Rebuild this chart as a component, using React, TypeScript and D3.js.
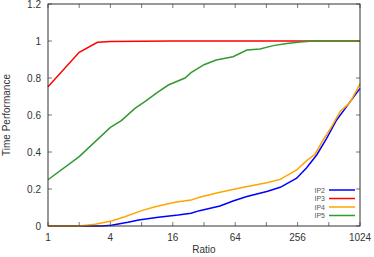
import React, { useEffect, useRef } from "react"
import * as d3 from "d3"

// series data: ratio (x) and time performance (y)
const ip2Ratio = [1, 3.3, 4.1, 5.9, 7.5, 11.6, 18, 24, 29, 45.6, 61, 83, 129, 174, 251, 313, 391, 488, 609, 760, 1024]
const ip2Value = [0, 0, 0.004, 0.02, 0.032, 0.047, 0.059, 0.069, 0.083, 0.108, 0.135, 0.159, 0.186, 0.209, 0.258, 0.315, 0.384, 0.474, 0.573, 0.645, 0.744]

const ip3Ratio = [1, 2, 3, 4, 8, 16, 64, 256, 1024]
const ip3Value = [0.753, 0.939, 0.993, 0.997, 0.999, 1, 1, 1, 1]

const ip4Ratio = [1, 2, 2.85, 4.1, 5.5, 8, 10.8, 16.8, 24, 29, 45.6, 77, 129, 174, 251, 313, 377, 452, 545, 657, 820, 1024]
const ip4Value = [0, 0, 0.009, 0.027, 0.05, 0.083, 0.104, 0.128, 0.14, 0.155, 0.182, 0.209, 0.234, 0.252, 0.303, 0.353, 0.388, 0.465, 0.537, 0.618, 0.668, 0.768]

const ip5Ratio = [1, 2, 4, 5.1, 6.9, 8.6, 11.2, 14.5, 21, 24, 32, 42, 61, 83, 111, 149, 201, 271, 362, 1024]
const ip5Value = [0.25, 0.375, 0.533, 0.57, 0.636, 0.672, 0.72, 0.762, 0.8, 0.829, 0.872, 0.897, 0.915, 0.951, 0.957, 0.975, 0.987, 0.995, 1, 1]

const seriesNames = ["IP2", "IP3", "IP4", "IP5"]
const seriesColors = ["#0000ff", "#ff0000", "#ffa500", "#339933"]

const xTicks = [1, 2, 4, 8, 16, 32, 64, 128, 256, 512, 1024]
const xLabels = [1, 4, 16, 64, 256, 1024]
const yTicks = [0, 0.2, 0.4, 0.6, 0.8, 1, 1.2]

const App = () => {
  const ref = useRef<SVGSVGElement>(null)

  useEffect(() => {
    const svg = d3.select(ref.current)
    svg.selectAll("*").remove()

    const margin = { top: 4, right: 14, bottom: 31, left: 48 }
    const width = 374 - margin.left - margin.right
    const height = 257 - margin.top - margin.bottom

    const x = d3.scaleLog().base(2).domain([1, 1024]).range([0, width])
    const y = d3.scaleLinear().domain([0, 1.2]).range([height, 0])

    const g = svg.append("g").attr("transform", `translate(${margin.left},${margin.top})`)

    const font = "Liberation Sans, Arial, sans-serif"
    const ink = "#333"

    // inward ticks on all four sides
    const ticks = g.append("g").attr("stroke", "#555").attr("stroke-width", 0.8)
    xTicks.forEach((t) => {
      ticks.append("line").attr("x1", x(t)).attr("x2", x(t)).attr("y1", height).attr("y2", height - 4)
      ticks.append("line").attr("x1", x(t)).attr("x2", x(t)).attr("y1", 0).attr("y2", 4)
    })
    yTicks.forEach((t) => {
      ticks.append("line").attr("x1", 0).attr("x2", 4).attr("y1", y(t)).attr("y2", y(t))
      ticks.append("line").attr("x1", width).attr("x2", width - 4).attr("y1", y(t)).attr("y2", y(t))
    })

    g.selectAll(".xl")
      .data(xLabels)
      .enter()
      .append("text")
      .attr("x", (d) => x(d))
      .attr("y", height + 15)
      .attr("text-anchor", "middle")
      .attr("font-family", font)
      .attr("font-size", 10)
      .attr("fill", ink)
      .text((d) => d)

    g.selectAll(".yl")
      .data(yTicks)
      .enter()
      .append("text")
      .attr("x", -7)
      .attr("y", (d) => y(d) + 3.5)
      .attr("text-anchor", "end")
      .attr("font-family", font)
      .attr("font-size", 10)
      .attr("fill", ink)
      .text((d) => (d === 0 || d === 1 ? String(d) : d.toFixed(1)))

    svg.append("text")
      .attr("x", margin.left + width / 2)
      .attr("y", 253)
      .attr("text-anchor", "middle")
      .attr("font-family", font)
      .attr("font-size", 10)
      .attr("fill", ink)
      .text("Ratio")

    svg.append("text")
      .attr("transform", `translate(9.5,${margin.top + height / 2}) rotate(-90)`)
      .attr("text-anchor", "middle")
      .attr("font-family", font)
      .attr("font-size", 10)
      .attr("fill", ink)
      .text("Time Performance")

    const ratios = [ip2Ratio, ip3Ratio, ip4Ratio, ip5Ratio]
    const values = [ip2Value, ip3Value, ip4Value, ip5Value]

    const line = d3
      .line<[number, number]>()
      .x((d) => x(d[0]))
      .y((d) => y(d[1]))

    ratios.forEach((r, i) => {
      const pts: [number, number][] = r.map((v, j) => [v, values[i][j]])
      g.append("path")
        .attr("d", line(pts))
        .attr("fill", "none")
        .attr("stroke", seriesColors[i])
        .attr("stroke-width", 1.5)
    })

    // legend
    const lg = g.append("g").attr("transform", `translate(${width - 35},${190 - margin.top})`)
    seriesNames.forEach((name, i) => {
      const row = lg.append("g").attr("transform", `translate(0,${i * 8.5})`)
      row.append("text")
        .attr("x", 0)
        .attr("y", 2.5)
        .attr("text-anchor", "end")
        .attr("font-family", font)
        .attr("font-size", 7)
        .attr("fill", "#555")
        .text(name)
      row.append("line")
        .attr("x1", 4)
        .attr("x2", 30)
        .attr("y1", 0)
        .attr("y2", 0)
        .attr("stroke", seriesColors[i])
        .attr("stroke-width", 1.5)
    })

    g.append("rect")
      .attr("width", width)
      .attr("height", height)
      .attr("fill", "none")
      .attr("stroke", ink)
      .attr("stroke-width", 1)
  }, [])

  return (
    <svg ref={ref} width={374} height={257} style={{ position: "absolute", left: 0, top: 0, background: "#fff" }} />
  )
}

export default App
